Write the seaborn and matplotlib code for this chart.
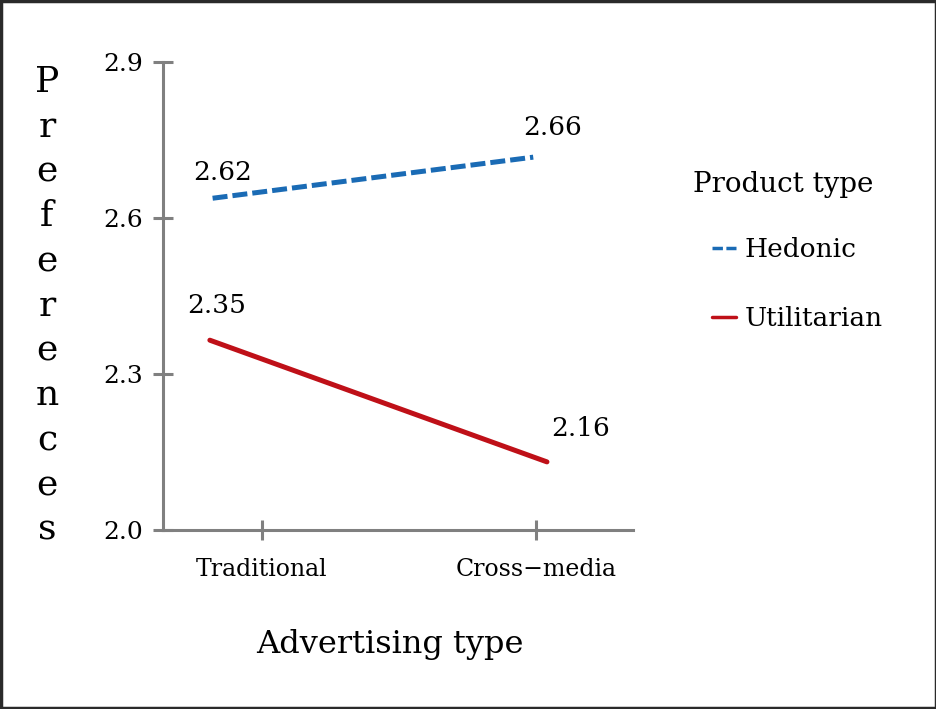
import numpy as np
import pandas as pd
import matplotlib.pyplot as plt
import seaborn as sns
from matplotlib.patches import Rectangle

# ================== Data ==================
ad_types = ["Traditional", "Cross\u2212media"]
ad_positions = [0, 1]

hedonic_x = [-0.18, 0.99]
hedonic_y = [2.638, 2.717]
hedonic_labels = ["2.62", "2.66"]

utilitarian_x = [-0.19, 1.04]
utilitarian_y = [2.365, 2.131]
utilitarian_labels = ["2.35", "2.16"]

y_ticks = [2.0, 2.3, 2.6, 2.9]

df = pd.DataFrame({
    "x": hedonic_x + utilitarian_x,
    "pref": hedonic_y + utilitarian_y,
    "Product type": ["Hedonic"] * 2 + ["Utilitarian"] * 2,
})

# ================== Style ==================
sns.set_style("white")
plt.rcParams['font.family'] = ['DejaVu Serif']
plt.rcParams['text.color'] = 'black'
plt.rcParams['xtick.color'] = 'black'
plt.rcParams['ytick.color'] = 'black'
plt.rcParams['axes.labelcolor'] = 'black'

blue = "#1a6bb5"
red = "#bf1018"
gray = "#808080"

fig = plt.figure(figsize=(9.37, 7.09), dpi=100)
ax = fig.add_axes([163 / 937, 1 - 530 / 709, 470 / 937, 468 / 709])

sns.lineplot(data=df, x="x", y="pref", hue="Product type", style="Product type",
             palette={"Hedonic": blue, "Utilitarian": red},
             dashes={"Hedonic": (3, 1), "Utilitarian": ""},
             linewidth=3.6, sort=False, ax=ax)

# value labels
offsets_h = [(10, 26), (19, 30)]
offsets_u = [(7, 35), (34, 33)]
for xs, ys, labs, offs in [(hedonic_x, hedonic_y, hedonic_labels, offsets_h),
                           (utilitarian_x, utilitarian_y, utilitarian_labels, offsets_u)]:
    for x, y, lab, off in zip(xs, ys, labs, offs):
        ax.annotate(lab, (x, y), xytext=off, textcoords='offset pixels',
                    ha='center', va='center', fontsize=19)

# axes
ax.set_xlim(-0.361, 1.354)
ax.set_ylim(2.0, 2.9)
ax.set_xticks(ad_positions)
ax.set_xticklabels(ad_types, fontsize=17)
ax.set_yticks(y_ticks)
ax.set_yticklabels([f"{t:.1f}" for t in y_ticks], fontsize=18)
ax.tick_params(axis='both', bottom=True, left=True, direction='inout',
               length=15, width=2.2, color=gray, labelcolor='black')
ax.tick_params(axis='x', pad=13)
ax.tick_params(axis='y', pad=6.5)

for side in ['top', 'right']:
    ax.spines[side].set_visible(False)
for side in ['left', 'bottom']:
    ax.spines[side].set_color(gray)
    ax.spines[side].set_linewidth(2.2)

ax.set_xlabel("Advertising type", fontsize=23)
ax.xaxis.set_label_coords(0.483, -0.212)
ax.set_ylabel("\n".join("Preferences"), rotation=0, fontsize=26,
              ha='center', va='center', multialignment='center', linespacing=1.4)
ax.yaxis.set_label_coords(-0.247, 0.479)

sns.move_legend(ax, "center left", bbox_to_anchor=(712 / 937, 1 - 284 / 709),
                bbox_transform=fig.transFigure, title=None,
                frameon=False, fontsize=19,
                handlelength=0.9, handletextpad=0.35, labelspacing=1.65,
                borderpad=0, borderaxespad=0)
leg = ax.get_legend()
for line in leg.get_lines():
    line.set_linewidth(2.5)
fig.text(693 / 937, 1 - 185 / 709, "Product type", fontsize=20,
         ha='left', va='center')

# outer frame
fig.patches.append(Rectangle((0.0015, 0.002), 0.997, 0.996, transform=fig.transFigure,
                             fill=False, edgecolor="#2a2a2a", linewidth=2.5))

plt.savefig("out.png", dpi=100)
